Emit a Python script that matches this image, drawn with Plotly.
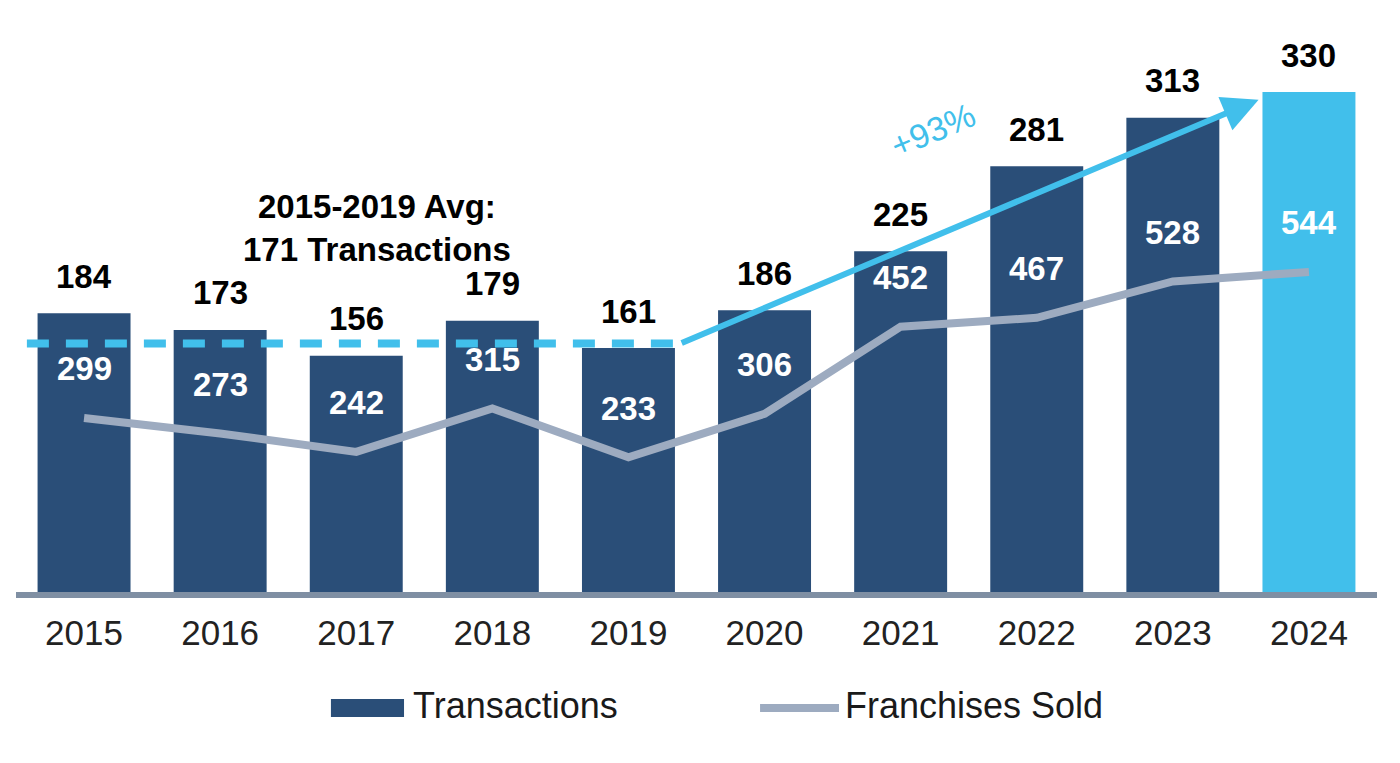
import plotly.graph_objects as go

# data
years = [2015, 2016, 2017, 2018, 2019, 2020, 2021, 2022, 2023, 2024]
transactions = [184, 173, 156, 179, 161, 186, 225, 281, 313, 330]
franchises_sold = [299, 273, 242, 315, 233, 306, 452, 467, 528, 544]

avg_text = "2015-2019 Avg:<br>171 Transactions"
growth_text = "+93%"
highlight_year = 2024

DARK = "#2A4E78"
LIGHT = "#41BFEB"
GREY_LINE = "#9DABC0"
AXIS = "#7F8FA3"
FONT = "Liberation Sans, Arial, sans-serif"

bar_colors = [LIGHT if y == highlight_year else DARK for y in years]

fig = go.Figure()
fig.add_trace(go.Bar(
    x=years, y=transactions, name="Transactions",
    marker={"color": bar_colors, "line": {"width": 0}},
    hoverinfo="skip",
))
fig.add_trace(go.Scatter(
    x=years, y=franchises_sold, name="Franchises Sold", yaxis="y2",
    mode="lines", line={"color": GREY_LINE, "width": 8},
    hoverinfo="skip",
))

annotations = []
# transactions labels above the bars
for x, v in zip(years, transactions):
    annotations.append(dict(
        x=x, y=v, xref="x", yref="y", text=f"<b>{v}</b>", showarrow=False,
        yanchor="middle", yshift=37, font={"size": 33, "color": "#000000", "family": FONT},
    ))
# franchises labels (white, inside bars, above the line)
for x, v in zip(years, franchises_sold):
    annotations.append(dict(
        x=x, y=v, xref="x", yref="y2", text=f"<b>{v}</b>", showarrow=False,
        yanchor="middle", yshift=49, font={"size": 33, "color": "#FFFFFF", "family": FONT},
    ))

# average callout
annotations.append(dict(
    x=2017.15, y=240, xref="x", yref="y", text=f"<b>{avg_text}</b>", showarrow=False,
    font={"size": 33, "color": "#000000", "family": FONT}, align="center",
))
# growth arrow, starting at the end of the dashed average line
avg_level = 164
annotations.append(dict(
    x=2023.63, y=325, xref="x", yref="y",
    ax=2019.38, ay=avg_level, axref="x", ayref="y",
    text="", showarrow=True, arrowhead=2, arrowsize=1.2, arrowwidth=6,
    arrowcolor=LIGHT, standoff=0, startstandoff=0,
))
annotations.append(dict(
    x=2021.24, y=305, xref="x", yref="y", text=growth_text, showarrow=False,
    textangle=-23, font={"size": 34, "color": LIGHT, "family": FONT},
))

# custom legend
annotations.append(dict(
    x=0.2902, y=-0.2065, xref="paper", yref="paper", text="Transactions",
    showarrow=False, xanchor="left", yanchor="middle",
    font={"size": 36, "color": "#1A1A1A", "family": FONT},
))
annotations.append(dict(
    x=0.6076, y=-0.2065, xref="paper", yref="paper", text="Franchises Sold",
    showarrow=False, xanchor="left", yanchor="middle",
    font={"size": 36, "color": "#1A1A1A", "family": FONT},
))

shapes = [
    # dashed 2015-2019 average
    dict(type="line", xref="x", yref="y", x0=2014.58, x1=2019.38,
         y0=avg_level, y1=avg_level, line={"color": LIGHT, "width": 8, "dash": "22px,17px"}),
    # legend swatches
    dict(type="rect", xref="paper", yref="paper", x0=0.2314, x1=0.2851,
         y0=-0.1938, y1=-0.2264, fillcolor=DARK, line={"width": 0}),
    dict(type="line", xref="paper", yref="paper", x0=0.5467, x1=0.6047,
         y0=-0.2101, y1=-0.2101, line={"color": GREY_LINE, "width": 8}),
]

# the page body adds an 8px margin, so the figure is shrunk by that much
fig.update_layout(
    width=1392, height=755,
    margin={"l": 8, "r": 23, "t": 32, "b": 171},
    paper_bgcolor="white", plot_bgcolor="white",
    showlegend=False, bargap=0.317,
    font={"family": FONT},
    xaxis={
        "range": [2014.5, 2024.5], "tickmode": "array", "tickvals": years,
        "ticktext": [str(y) for y in years], "showgrid": False, "zeroline": False,
        "showline": True, "linecolor": AXIS, "linewidth": 6,
        "tickfont": {"size": 35, "color": "#222222", "family": FONT},
        "ticklabelstandoff": 5, "ticks": "",
    },
    yaxis={"range": [0, 364.4], "visible": False, "showgrid": False, "zeroline": False},
    yaxis2={"range": [7, 933], "overlaying": "y", "visible": False,
            "showgrid": False, "zeroline": False},
    annotations=annotations,
    shapes=shapes,
)

fig.write_html("out.html")
